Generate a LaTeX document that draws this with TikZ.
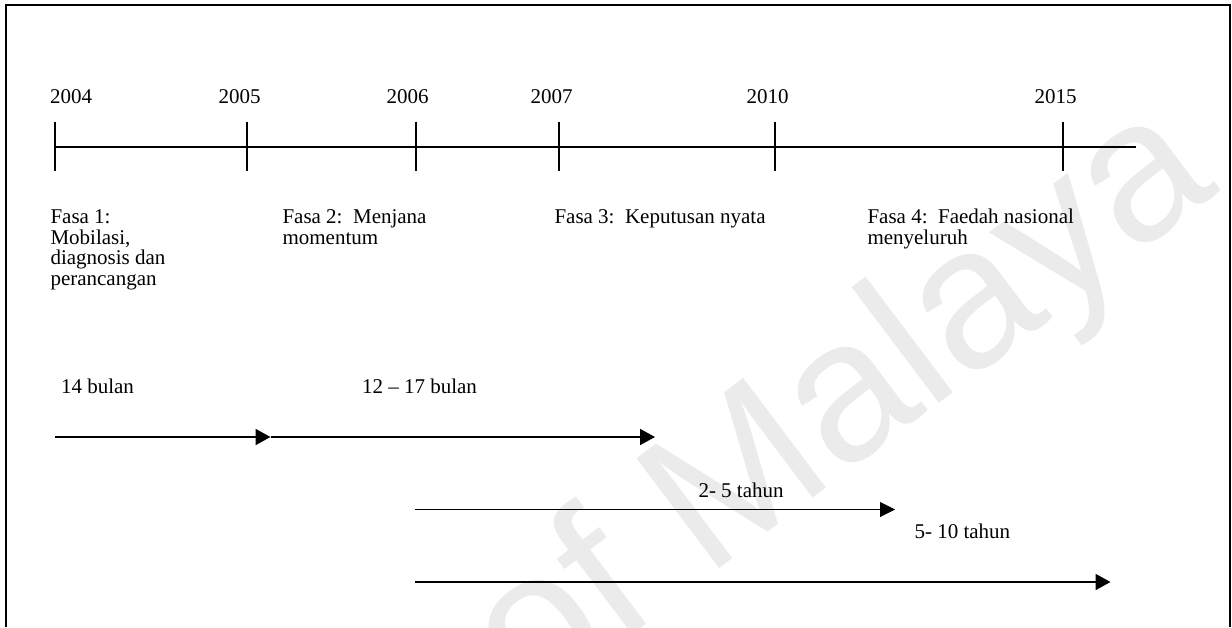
\documentclass[tikz,border=0pt]{standalone}
\usepackage{fontspec}
\setmainfont{Liberation Serif}
\newfontfamily\wmfont{Liberation Sans}
\usetikzlibrary{arrows.meta}

\begin{document}
\begin{tikzpicture}[x=1pt,y=-1pt,
  label/.style={anchor=base west,inner sep=0pt,outer sep=0pt,align=left,
    font=\fontsize{21}{20.5}\selectfont},
  frameline/.style={line width=2pt},
  axis/.style={line width=2pt},
  tick/.style={line width=2pt},
  span/.style={line width=1.8pt,-{Triangle[length=15pt,width=16pt]}},
  thinspan/.style={line width=1pt,-{Triangle[length=15pt,width=15pt]}},
  plain/.style={line width=1.8pt}]

\useasboundingbox (0,0) rectangle (1232,627);

% faint diagonal watermark
\begin{scope}
  \clip (0,0) rectangle (1232,627);
  \node[anchor=base east,inner sep=0pt,rotate=37,text=black!8,
        font=\wmfont\fontsize{200}{200}\selectfont] (wm) at (1222,190) {of Malaya};
\end{scope}

% outer frame (open at the bottom)
\draw[frameline] (6.2,627) -- (6.2,5) -- (1230.3,5) -- (1230.3,627);

% time axis
\coordinate (axL) at (55,146.7);
\coordinate (axR) at (1136,146.7);
\draw[axis] (axL) -- (axR);

\foreach \yr/\x in {2004/55,2005/247,2006/415.7,2007/559.3,2010/775.3,2015/1063}{
  \coordinate (top\yr) at (\x,121.7);
  \coordinate (bot\yr) at (\x,170.7);
  \draw[tick] (top\yr) -- (bot\yr);
}

% year labels
\node[label] (y2004) at (50,103.3) {2004};
\node[label] (y2005) at (218.5,103.3) {2005};
\node[label] (y2006) at (386.5,103.3) {2006};
\node[label] (y2007) at (530.5,103.3) {2007};
\node[label] (y2010) at (746.5,103.3) {2010};
\node[label] (y2015) at (1034.5,103.3) {2015};

% phases (multi-line nodes sit on the baseline of their last line)
\node[label] (f1) at (50.5,285) {Fasa 1:\\Mobilasi,\\diagnosis dan\\perancangan};
\node[label] (f2) at (282.5,244) {Fasa 2:\ \ Menjana\\momentum};
\node[label] (f3) at (554.5,223.5) {Fasa 3:\ \ Keputusan nyata};
\node[label] (f4) at (867.5,244) {Fasa 4:\ \ Faedah nasional\\menyeluruh};

% durations
\node[label] (d1) at (61,393) {14 bulan};
\node[label] (d2) at (362,393) {12 -- 17 bulan};
\node[label] (d3) at (698.5,497.5) {2- 5 tahun};
\node[label] (d4) at (914.5,538) {5- 10 tahun};

% duration arrows
\coordinate (a1s) at (55,437);
\coordinate (a1e) at (270.5,437);
\coordinate (a2e) at (655,437);
\draw[span] (a1s) -- (a1e);
\draw[span] (a1e) -- (a2e);

\coordinate (b1s) at (415,509.5);
\coordinate (b1m) at (679,509.5);
\coordinate (b1e) at (895,509.5);
\draw[plain] (b1s) -- (b1m);
\draw[thinspan] (b1m) -- (b1e);

\coordinate (c1s) at (415,582);
\coordinate (c1e) at (1110.5,582);
\draw[span] (c1s) -- (c1e);

\end{tikzpicture}
\end{document}
